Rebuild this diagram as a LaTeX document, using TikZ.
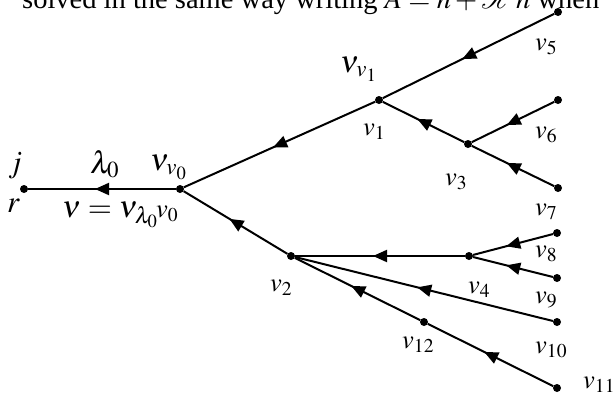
\documentclass[tikz,border=0pt]{standalone}
\usepackage{mathptmx}
\usepackage{fontspec}
\setmainfont{Liberation Serif}
\usetikzlibrary{arrows.meta,decorations.markings}
\tikzset{
  dot/.style={circle,fill=black,inner sep=0pt,minimum size=8pt},
  edge/.style={line width=2pt,
    postaction={decorate,decoration={markings,
      mark=at position 0.5 with {\arrow[xshift=7pt]{Triangle[length=14pt,width=12pt]}}}}},
  lab/.style={font=\fontsize{26.5}{30}\selectfont,inner sep=0pt,anchor=base west},
  biglab/.style={font=\fontsize{31}{36}\selectfont,inner sep=0pt,anchor=base west},
  toptext/.style={font=\fontsize{28.5}{34}\selectfont,inner sep=0pt,anchor=base west}
}
\begin{document}
\begin{tikzpicture}[x=1pt,y=-1pt]
\useasboundingbox (0,0) rectangle (616,394);
\node[toptext] (tt) at (22,8) {solved in the same way writing $A=h+\mathcal{K}h$ when};
% vertices
\node[dot] (r) at (24,189) {};
\node[dot] (v0) at (180,189) {};
\node[dot] (v1) at (379,100) {};
\node[dot] (v2) at (291,256) {};
\node[dot] (v3) at (468,144) {};
\node[dot] (v4) at (469,256) {};
\node[dot] (v5) at (558,12) {};
\node[dot] (v6) at (558,100) {};
\node[dot] (v7) at (558,188) {};
\node[dot] (v8) at (557,233) {};
\node[dot] (v9) at (557,278) {};
\node[dot] (v10) at (557,322) {};
\node[dot] (v11) at (557,388) {};
\node[dot] (v12) at (424,322) {};
% edges (child to parent)
\draw[edge] (v0) -- (r);
\draw[edge] (v1) -- (v0);
\draw[edge] (v2) -- (v0);
\draw[edge] (v5) -- (v1);
\draw[edge] (v3) -- (v1);
\draw[edge] (v6) -- (v3);
\draw[edge] (v7) -- (v3);
\draw[edge] (v4) -- (v2);
\draw[edge] (v8) -- (v4);
\draw[edge] (v9) -- (v4);
\draw[edge] (v10) -- (v2);
\draw[edge] (v12) -- (v2);
\draw[edge] (v11) -- (v12);
% labels
\node[biglab] (lj) at (8,172) {$j$};
\node[biglab] (lr) at (7,212) {$r$};
\node[biglab] (llam) at (90,173) {$\lambda_0$};
\node[biglab] (lnu0) at (150,170) {$\nu_{v_0}$};
\node[biglab] (lnu) at (62,217) {$\nu=\nu_{\lambda_0}$};
\node[lab] (l0) at (156,217) {$v_0$};
\node[biglab] (lnu1) at (340,72) {$\nu_{v_1}$};
\node[lab] (l1) at (363,135) {$v_1$};
\node[lab] (l2) at (270,291) {$v_2$};
\node[lab] (l3) at (445,185) {$v_3$};
\node[lab] (l4) at (468,293) {$v_4$};
\node[lab] (l5) at (535,50) {$v_5$};
\node[lab] (l6) at (535,138) {$v_6$};
\node[lab] (l7) at (535,215) {$v_7$};
\node[lab] (l8) at (535,257) {$v_8$};
\node[lab] (l9) at (535,303) {$v_9$};
\node[lab] (l10) at (535,353) {$v_{10}$};
\node[lab] (l11) at (583,388) {$v_{11}$};
\node[lab] (l12) at (402,348) {$v_{12}$};
\end{tikzpicture}
\end{document}
